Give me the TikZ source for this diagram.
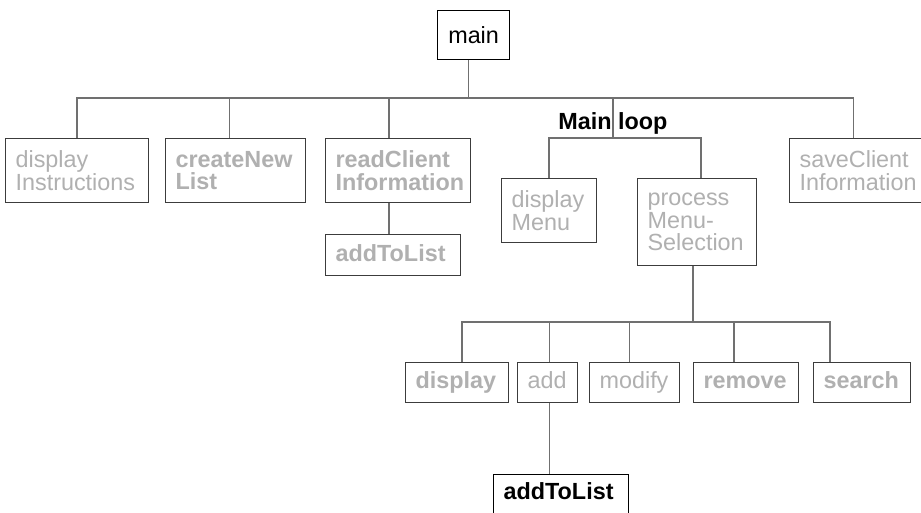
\documentclass[tikz,border=0pt]{standalone}
\usepackage{fontspec}
\setmainfont{Liberation Sans}
\usepackage{tikz}
\usetikzlibrary{calc}
\definecolor{ChartText}{HTML}{B0B0B0}
\definecolor{ChartLink}{HTML}{707070}
\definecolor{ChartBox}{HTML}{3C3C3C}
\newcommand\boxfont{\fontsize{13.3}{12.8}\selectfont}
\tikzset{
  modbox/.style={draw=ChartBox,line width=.7pt,text=ChartText,align=left,
    inner xsep=0.2cm,inner ysep=0pt,anchor=north west,font=\boxfont},
  oneline/.style={text height=10.2pt,text depth=3.4pt,minimum height=0.80cm},
  strong/.style={font=\boxfont\bfseries},
  link/.style={draw=ChartLink,line width=.8pt}
}

\begin{document}
\begin{tikzpicture}[x=0.02cm,y=-0.02cm]
\path[use as bounding box] (0,0) rectangle (921,512);
\fill[white] (0,0) rectangle (921,512);
\coordinate (busA) at (0,98);
\coordinate (busB) at (0,138);
\coordinate (busC) at (0,322);
\node[draw=black,line width=.7pt,anchor=north west,font=\boxfont,minimum width=1.44cm,minimum height=0.98cm,inner sep=0pt] (main) at (437,10) {main};
\node[modbox,text width=2.46cm,minimum height=1.28cm] (dispInstr) at (5,138) {display\\Instructions};
\node[modbox,strong,text width=2.40cm,minimum height=1.28cm] (createNew) at (165,138) {createNew\\List};
\node[modbox,strong,text width=2.50cm,minimum height=1.28cm] (readClient) at (325,138) {readClient\\Information};
\node[modbox,text width=2.40cm,minimum height=1.28cm] (saveClient) at (789,138) {saveClient\\Information};
\node[font=\boxfont\bfseries,anchor=base] (mainLoop) at (613,129) {Main loop};
\node[modbox,text width=1.50cm,minimum height=1.28cm] (dispMenu) at (501,178) {display\\Menu};
\node[modbox,text width=1.98cm,minimum height=1.74cm] (procMenu) at (637,178) {process\\Menu-\\Selection};
\node[modbox,strong,oneline,text width=2.30cm,minimum height=0.82cm] (addList) at (325,234) {addToList};
\node[modbox,strong,oneline,text width=1.66cm] (display) at (405,362) {display};
\node[modbox,oneline,text width=0.80cm] (add) at (517,362) {add};
\node[modbox,oneline,text width=1.40cm] (modify) at (589,362) {modify};
\node[modbox,strong,oneline,text width=1.70cm] (remove) at (693,362) {remove};
\node[modbox,strong,oneline,text width=1.54cm] (search) at (813,362) {search};
\node[modbox,strong,draw=black,text=black,text width=2.30cm,text height=10.2pt,text depth=9.5pt,minimum height=0.96cm] (addListB) at (493,474) {addToList};

\draw[link] ($(main.south)+(-5,0)$) -- ($(main.south |- busA)+(-5,0)$);
\draw[link] (dispInstr.north) |- ($(saveClient.north |- busA)+(-6,0)$) -- ($(saveClient.north)+(-6,0)$);
\draw[link] ($(createNew.north)+(-6,0)$) -- ($(createNew.north |- busA)+(-6,0)$);
\draw[link] ($(readClient.north)+(-9,0)$) -- ($(readClient.north |- busA)+(-9,0)$);
\draw[link] (mainLoop.center |- busA) -- (mainLoop.center |- busB);
\draw[link] (dispMenu.north) |- ($(procMenu.north |- busB)+(4,0)$) -- ($(procMenu.north)+(4,0)$);
\draw[link] ($(readClient.south)+(-9,0)$) -- ($(readClient.south |- addList.north)+(-9,0)$);
\draw[link] ($(procMenu.south)+(-4,0)$) -- ($(procMenu.south |- busC)+(-4,0)$);
\draw[link] ($(display.north)+(5,0)$) |- ($(search.north |- busC)+(-32,0)$) -- ($(search.north)+(-32,0)$);
\foreach \n/\dx in {add/2,modify/-5,remove/-12}
  \draw[link] ($(\n.north)+(\dx,0)$) -- ($(\n.north |- busC)+(\dx,0)$);
\draw[link] ($(add.south)+(2,0)$) -- ($(add.south |- addListB.north)+(2,0)$);
\end{tikzpicture}
\end{document}
